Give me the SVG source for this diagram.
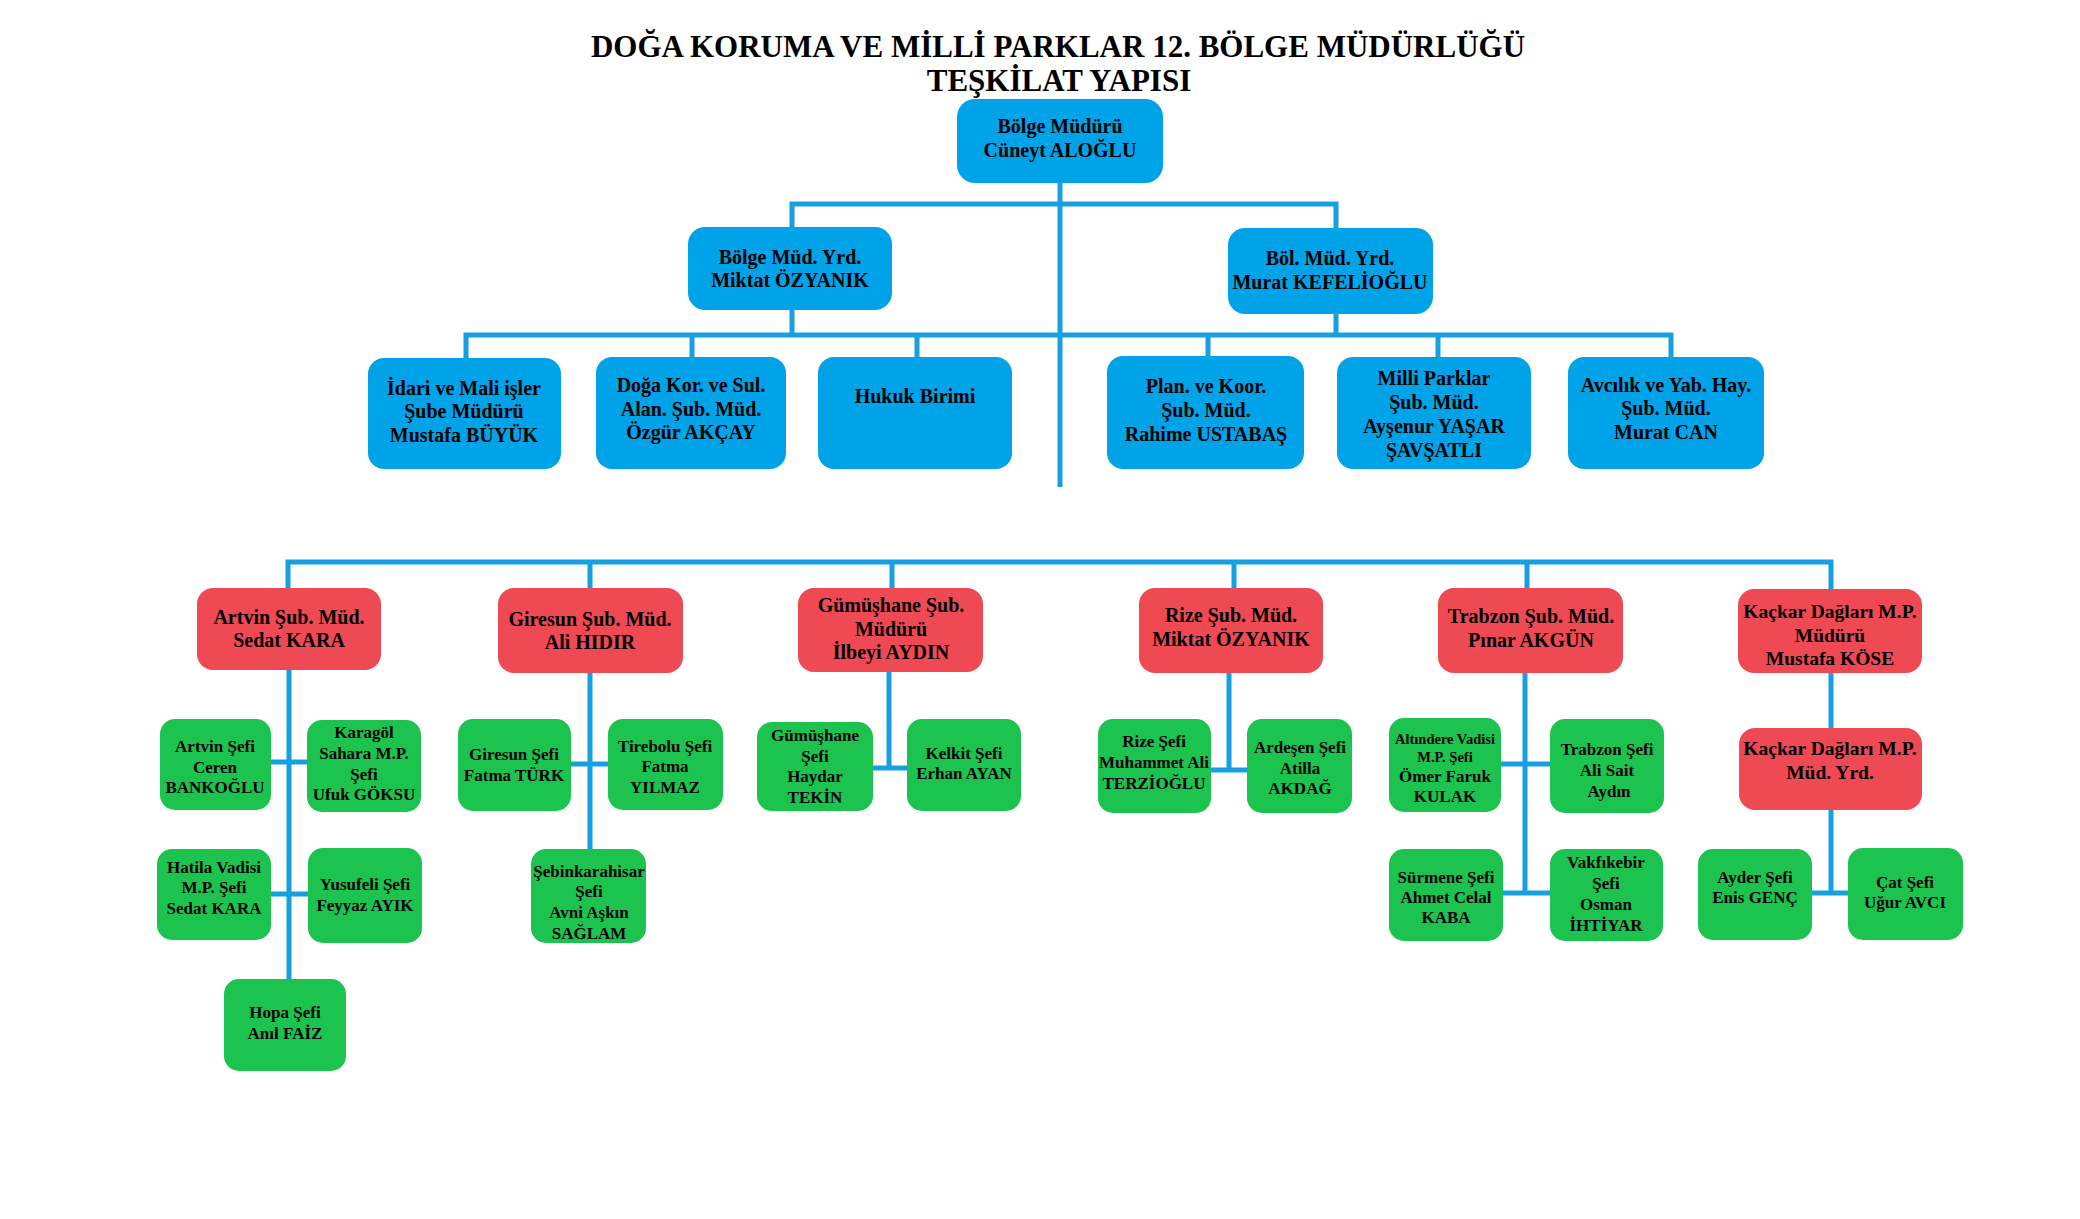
<svg xmlns="http://www.w3.org/2000/svg" width="2080" height="1219" viewBox="0 0 2080 1219">
<style>
text{font-family:"Liberation Serif","Times New Roman",serif;font-weight:bold;fill:#000;text-anchor:middle}
.title{font-size:31px}
.t20{font-size:20px}
.t19{font-size:19.5px}
.t17{font-size:17px}
.t14{font-size:14.5px}
.blue{fill:#00A2E8}
.red{fill:#EF4953}
.green{fill:#1CC44F}
#connectors path{stroke:#16A0E2;stroke-width:5;fill:none}
</style>
<rect width="2080" height="1219" fill="#fff"/>
<g id="title">
<text class="title" x="1058" y="57">DOĞA KORUMA VE MİLLİ PARKLAR 12. BÖLGE MÜDÜRLÜĞÜ</text>
<text class="title" x="1059" y="91">TEŞKİLAT YAPISI</text>
</g>
<g id="connectors">
<path d="M1060 183V487"/>
<path d="M792 227V204H1336V228"/>
<path d="M792 310V335M1336 314V335"/>
<path d="M466 358V335H1671V357"/>
<path d="M692 335V357M917 335V357M1208 335V356M1438 335V357"/>
<path d="M288 588V562H1831V589"/>
<path d="M590 562V588M892 562V588M1234 562V588M1527 562V588"/>
<path d="M289 670V979M271 762H307M271 894H308"/>
<path d="M590 673V849M571 764H608"/>
<path d="M889 672V768M873 768H907"/>
<path d="M1229 673V770M1211 770H1247"/>
<path d="M1525 673V893M1501 764H1550M1503 893H1550"/>
<path d="M1831 673V728M1831 810V893M1812 893H1848"/>
</g>
<g id="n-bolge-muduru"><rect class="blue" x="957" y="99" width="206" height="84" rx="18"/>
<text class="t20" x="1060" y="133">Bölge Müdürü</text><text class="t20" x="1060" y="157">Cüneyt ALOĞLU</text></g>
<g id="n-yrd-1"><rect class="blue" x="688" y="227" width="204" height="83" rx="17"/>
<text class="t20" x="790" y="264">Bölge Müd. Yrd.</text><text class="t20" x="790" y="287">Miktat ÖZYANIK</text></g>
<g id="n-yrd-2"><rect class="blue" x="1228" y="228" width="205" height="86" rx="17"/>
<text class="t20" x="1330" y="265">Böl. Müd. Yrd.</text><text class="t20" x="1330" y="289">Murat KEFELİOĞLU</text></g>
<g id="n-idari"><rect class="blue" x="368" y="358" width="193" height="111" rx="16"/>
<text class="t20" x="464" y="395">İdari ve Mali işler</text><text class="t20" x="464" y="418">Şube Müdürü</text><text class="t20" x="464" y="442">Mustafa BÜYÜK</text></g>
<g id="n-doga"><rect class="blue" x="596" y="357" width="190" height="112" rx="16"/>
<text class="t20" x="691" y="392">Doğa Kor. ve Sul.</text><text class="t20" x="691" y="416">Alan. Şub. Müd.</text><text class="t20" x="691" y="439">Özgür AKÇAY</text></g>
<g id="n-hukuk"><rect class="blue" x="818" y="357" width="194" height="112" rx="16"/>
<text class="t20" x="915" y="403">Hukuk Birimi</text></g>
<g id="n-plan"><rect class="blue" x="1107" y="356" width="197" height="113" rx="16"/>
<text class="t20" x="1206" y="393">Plan. ve Koor.</text><text class="t20" x="1206" y="417">Şub. Müd.</text><text class="t20" x="1206" y="441">Rahime USTABAŞ</text></g>
<g id="n-milli"><rect class="blue" x="1337" y="357" width="194" height="112" rx="16"/>
<text class="t20" x="1434" y="385">Milli Parklar</text><text class="t20" x="1434" y="409">Şub. Müd.</text><text class="t20" x="1434" y="433">Ayşenur YAŞAR</text><text class="t20" x="1434" y="457">ŞAVŞATLI</text></g>
<g id="n-avcilik"><rect class="blue" x="1568" y="357" width="196" height="112" rx="16"/>
<text class="t20" x="1666" y="392">Avcılık ve Yab. Hay.</text><text class="t20" x="1666" y="415">Şub. Müd.</text><text class="t20" x="1666" y="439">Murat CAN</text></g>
<g id="r-artvin"><rect class="red" x="197" y="588" width="184" height="82" rx="16"/>
<text class="t20" x="289" y="624">Artvin Şub. Müd.</text><text class="t20" x="289" y="647">Sedat KARA</text></g>
<g id="r-giresun"><rect class="red" x="498" y="588" width="185" height="85" rx="16"/>
<text class="t20" x="590" y="626">Giresun Şub. Müd.</text><text class="t20" x="590" y="649">Ali HIDIR</text></g>
<g id="r-gumushane"><rect class="red" x="798" y="588" width="185" height="84" rx="16"/>
<text class="t20" x="891" y="612">Gümüşhane Şub.</text><text class="t20" x="891" y="636">Müdürü</text><text class="t20" x="891" y="659">İlbeyi AYDIN</text></g>
<g id="r-rize"><rect class="red" x="1139" y="588" width="184" height="85" rx="16"/>
<text class="t20" x="1231" y="622">Rize Şub. Müd.</text><text class="t20" x="1231" y="646">Miktat ÖZYANIK</text></g>
<g id="r-trabzon"><rect class="red" x="1438" y="588" width="185" height="85" rx="16"/>
<text class="t20" x="1531" y="623">Trabzon Şub. Müd.</text><text class="t20" x="1531" y="647">Pınar AKGÜN</text></g>
<g id="r-kackar"><rect class="red" x="1738" y="589" width="184" height="84" rx="16"/>
<text class="t19" x="1830" y="618">Kaçkar Dağları M.P.</text><text class="t19" x="1830" y="642">Müdürü</text><text class="t19" x="1830" y="665">Mustafa KÖSE</text></g>
<g id="r-kackar-yrd"><rect class="red" x="1739" y="728" width="183" height="82" rx="16"/>
<text class="t19" x="1830" y="755">Kaçkar Dağları M.P.</text><text class="t19" x="1830" y="779">Müd. Yrd.</text></g>
<g id="g-artvin-sefi"><rect class="green" x="160" y="719" width="111" height="91" rx="15"/>
<text class="t17" x="215" y="752">Artvin Şefi</text><text class="t17" x="215" y="773">Ceren</text><text class="t17" x="215" y="793">BANKOĞLU</text></g>
<g id="g-karagol"><rect class="green" x="307" y="720" width="114" height="92" rx="15"/>
<text class="t17" x="364" y="738">Karagöl</text><text class="t17" x="364" y="759">Sahara M.P.</text><text class="t17" x="364" y="780">Şefi</text><text class="t17" x="364" y="800">Ufuk GÖKSU</text></g>
<g id="g-hatila"><rect class="green" x="157" y="849" width="114" height="91" rx="15"/>
<text class="t17" x="214" y="873">Hatila Vadisi</text><text class="t17" x="214" y="893">M.P. Şefi</text><text class="t17" x="214" y="914">Sedat KARA</text></g>
<g id="g-yusufeli"><rect class="green" x="308" y="848" width="114" height="95" rx="15"/>
<text class="t17" x="365" y="890">Yusufeli Şefi</text><text class="t17" x="365" y="911">Feyyaz AYIK</text></g>
<g id="g-hopa"><rect class="green" x="224" y="979" width="122" height="92" rx="15"/>
<text class="t17" x="285" y="1018">Hopa Şefi</text><text class="t17" x="285" y="1039">Anıl FAİZ</text></g>
<g id="g-giresun-sefi"><rect class="green" x="458" y="719" width="113" height="92" rx="15"/>
<text class="t17" x="514" y="760">Giresun Şefi</text><text class="t17" x="514" y="781">Fatma TÜRK</text></g>
<g id="g-tirebolu"><rect class="green" x="608" y="719" width="115" height="91" rx="15"/>
<text class="t17" x="665" y="752">Tirebolu Şefi</text><text class="t17" x="665" y="772">Fatma</text><text class="t17" x="665" y="793">YILMAZ</text></g>
<g id="g-sebinkarahisar"><rect class="green" x="531" y="849" width="115" height="94" rx="15"/>
<text class="t17" x="589" y="877">Şebinkarahisar</text><text class="t17" x="589" y="897">Şefi</text><text class="t17" x="589" y="918">Avni Aşkın</text><text class="t17" x="589" y="939">SAĞLAM</text></g>
<g id="g-gumushane-sefi"><rect class="green" x="757" y="722" width="116" height="89" rx="15"/>
<text class="t17" x="815" y="741">Gümüşhane</text><text class="t17" x="815" y="762">Şefi</text><text class="t17" x="815" y="782">Haydar</text><text class="t17" x="815" y="803">TEKİN</text></g>
<g id="g-kelkit"><rect class="green" x="907" y="719" width="114" height="92" rx="15"/>
<text class="t17" x="964" y="759">Kelkit Şefi</text><text class="t17" x="964" y="779">Erhan AYAN</text></g>
<g id="g-rize-sefi"><rect class="green" x="1098" y="719" width="113" height="94" rx="15"/>
<text class="t17" x="1154" y="747">Rize Şefi</text><text class="t17" x="1154" y="768">Muhammet Ali</text><text class="t17" x="1154" y="789">TERZİOĞLU</text></g>
<g id="g-ardesen"><rect class="green" x="1247" y="719" width="105" height="94" rx="15"/>
<text class="t17" x="1300" y="753">Ardeşen Şefi</text><text class="t17" x="1300" y="774">Atilla</text><text class="t17" x="1300" y="794">AKDAĞ</text></g>
<g id="g-altindere"><rect class="green" x="1389" y="718" width="112" height="94" rx="15"/>
<text class="t14" x="1445" y="744">Altındere Vadisi</text><text class="t14" x="1445" y="762">M.P.  Şefi</text><text class="t17" x="1445" y="782">Ömer Faruk</text><text class="t17" x="1445" y="802">KULAK</text></g>
<g id="g-trabzon-sefi"><rect class="green" x="1550" y="719" width="114" height="94" rx="15"/>
<text class="t17" x="1607" y="755">Trabzon Şefi</text><text class="t17" x="1607" y="776">Ali Sait</text><text class="t17" x="1609" y="797">Aydın</text></g>
<g id="g-surmene"><rect class="green" x="1389" y="849" width="114" height="92" rx="15"/>
<text class="t17" x="1446" y="883">Sürmene Şefi</text><text class="t17" x="1446" y="903">Ahmet Celal</text><text class="t17" x="1446" y="923">KABA</text></g>
<g id="g-vakfikebir"><rect class="green" x="1550" y="849" width="113" height="92" rx="15"/>
<text class="t17" x="1606" y="868">Vakfıkebir</text><text class="t17" x="1606" y="889">Şefi</text><text class="t17" x="1606" y="910">Osman</text><text class="t17" x="1606" y="931">İHTİYAR</text></g>
<g id="g-ayder"><rect class="green" x="1698" y="849" width="114" height="91" rx="15"/>
<text class="t17" x="1755" y="883">Ayder Şefi</text><text class="t17" x="1755" y="903">Enis GENÇ</text></g>
<g id="g-cat"><rect class="green" x="1848" y="848" width="115" height="92" rx="15"/>
<text class="t17" x="1905" y="888">Çat Şefi</text><text class="t17" x="1905" y="908">Uğur AVCI</text></g>
</svg>
